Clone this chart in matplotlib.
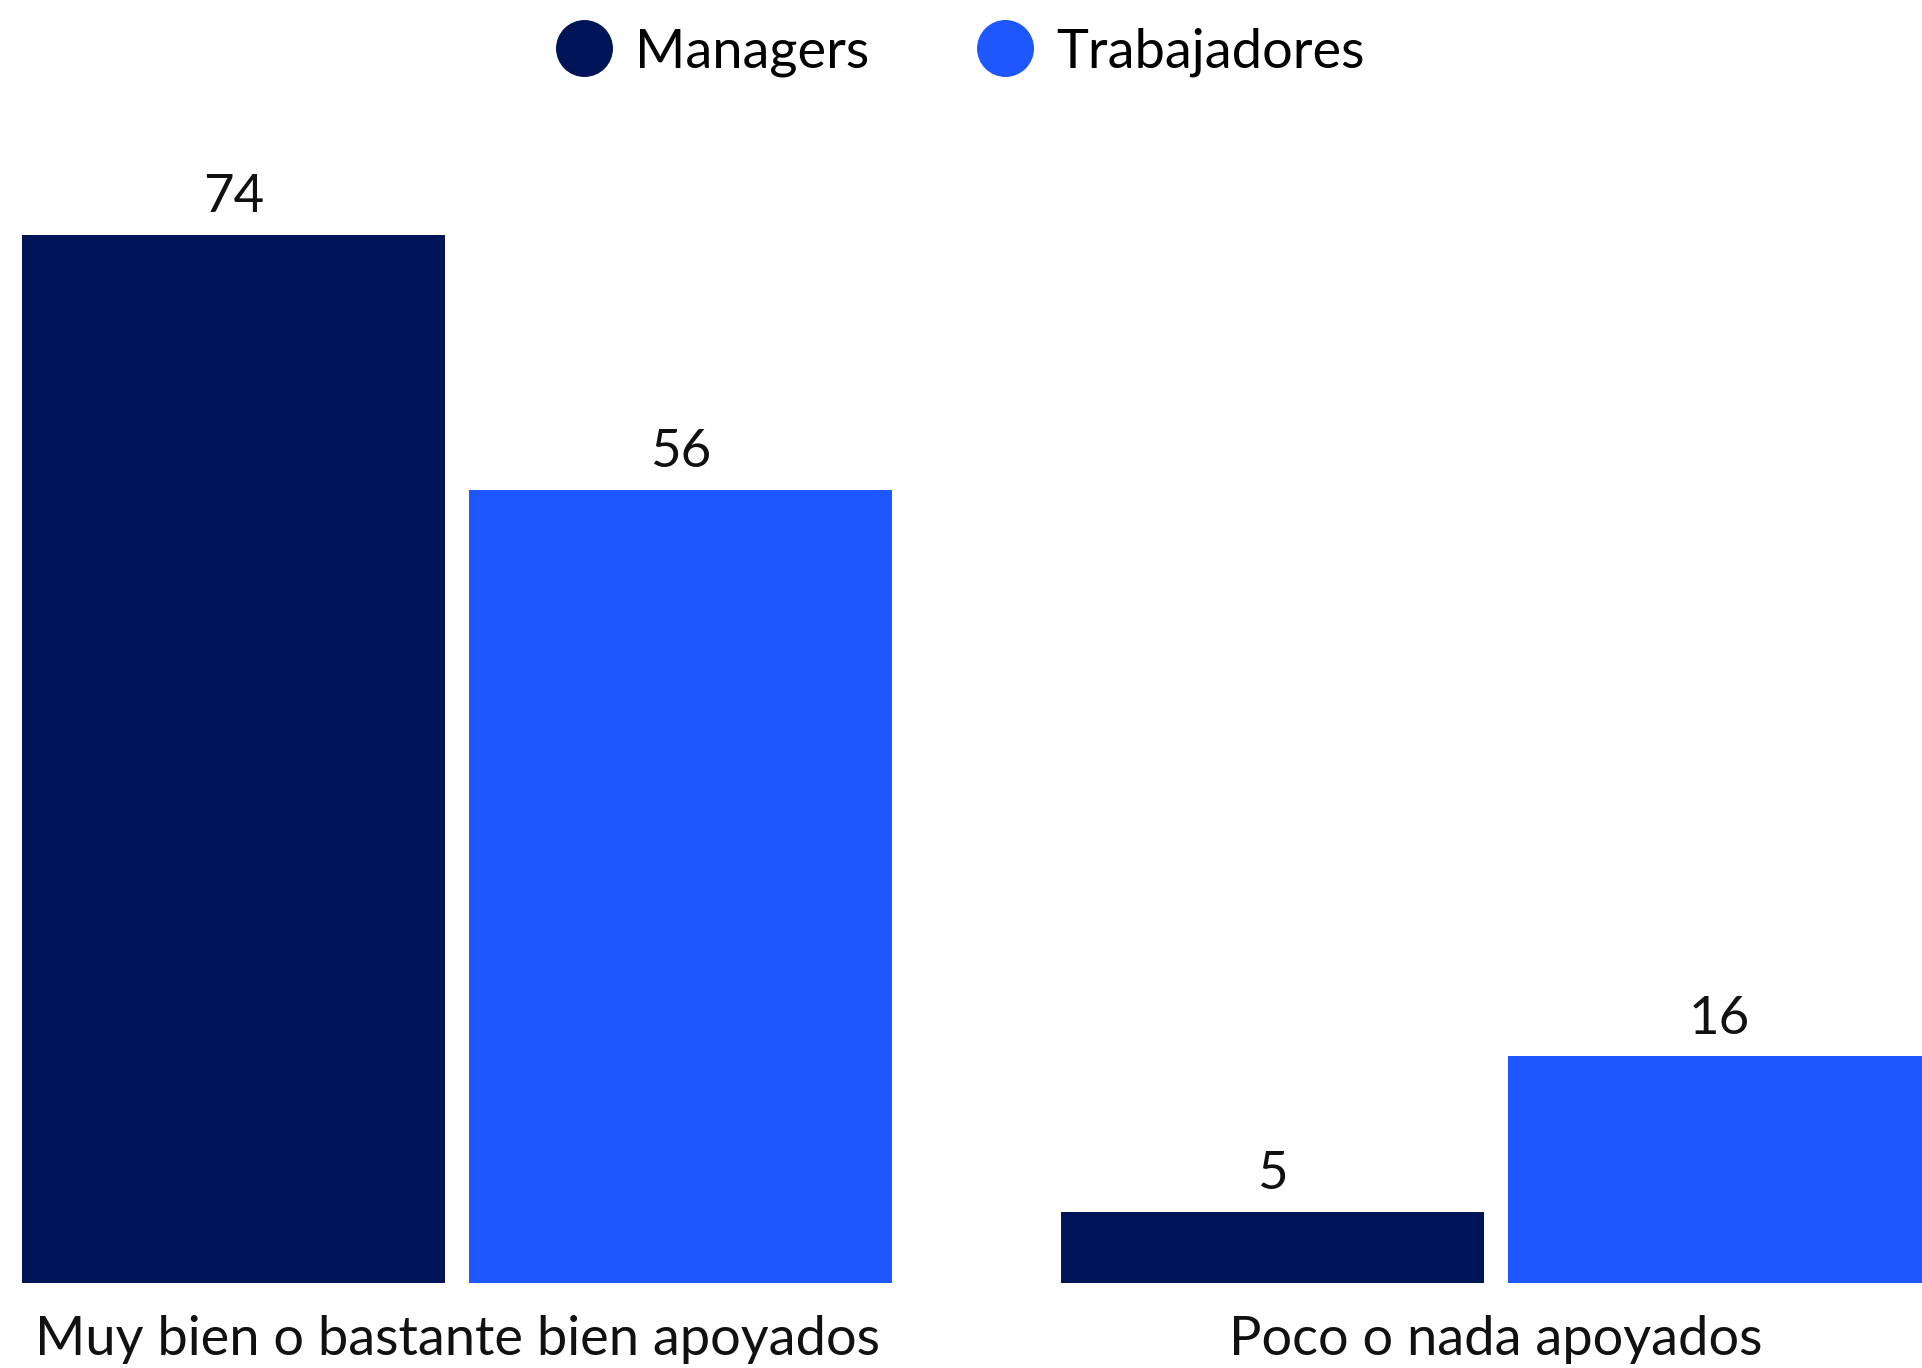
import numpy as np
from matplotlib import pyplot as plt
from matplotlib.lines import Line2D

plt.rcParams['font.family'] = ['Lato', 'DejaVu Sans']

categorias = ["Muy bien o bastante bien apoyados", "Poco o nada apoyados"]
managers = [74, 5]
trabajadores = [56, 16]
series = ["Managers", "Trabajadores"]
colores = ["#001558", "#1F57FF"]

fig = plt.figure(figsize=(19.22, 13.68), dpi=100)
ax = fig.add_axes([0, 0.0621, 1, 0.9379])

x = np.arange(len(categorias))
ancho = 0.407
desp = 0.215

b1 = ax.bar(x - desp, managers, ancho, color=colores[0])
b2 = ax.bar(x + desp, trabajadores, ancho, color=colores[1])
for b in (b1, b2):
    ax.bar_label(b, padding=10, fontsize=38, color="#111111")

ax.set_xlim(-0.44, 1.41)
ax.set_ylim(0, 90.6)
ax.set_xticks(x)
ax.set_xticklabels(categorias, fontsize=39, color="#111111")
ax.tick_params(axis='x', length=0, pad=23)
ax.set_yticks([])
for s in ax.spines.values():
    s.set_visible(False)

handles = [Line2D([], [], marker='o', linestyle='', markersize=40,
                  markerfacecolor=c, markeredgecolor=c) for c in colores]
fig.legend(handles, series, loc='upper center', bbox_to_anchor=(0.5, 0.996),
           ncol=2, frameon=False, fontsize=39, handlelength=1.0,
           handletextpad=0.45, columnspacing=2.0, borderaxespad=0.0)

fig.savefig("out.png", dpi=100)
